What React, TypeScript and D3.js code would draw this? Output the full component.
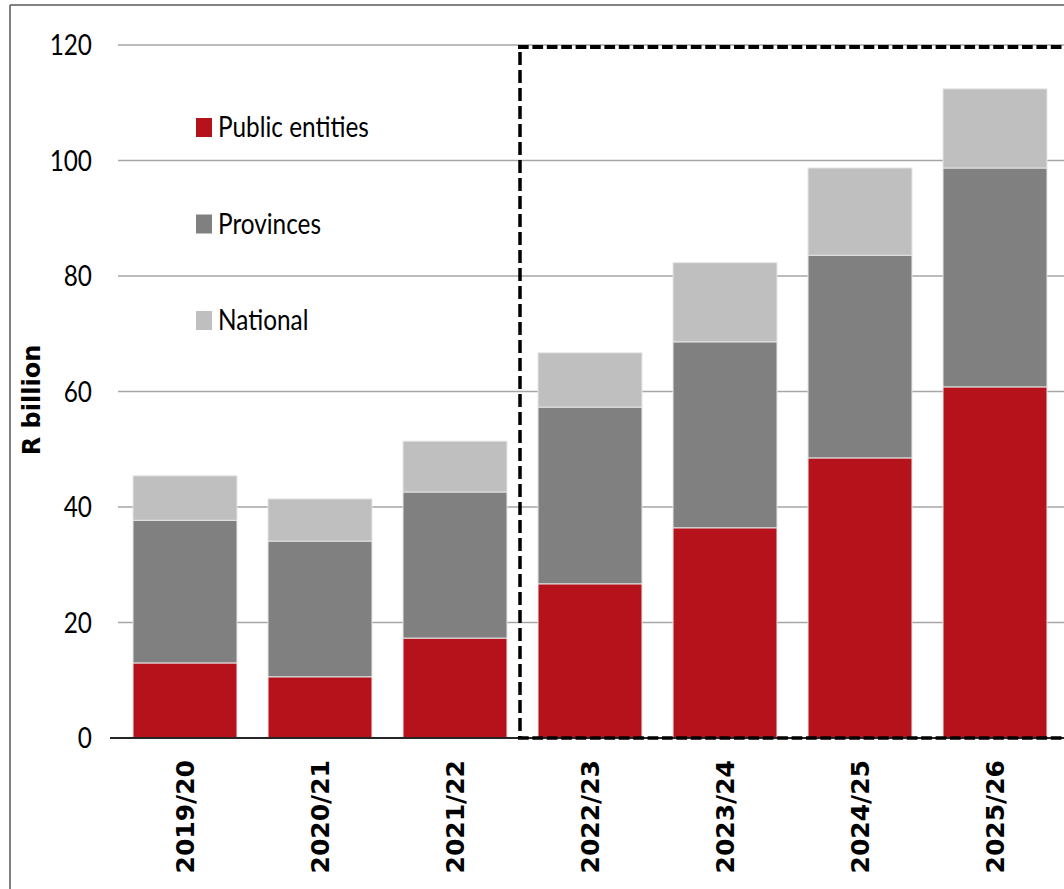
import React from 'react';
import * as d3 from 'd3';

const YEARS = ['2019/20', '2020/21', '2021/22', '2022/23', '2023/24', '2024/25', '2025/26'];
const PUBLIC_ENTITIES = [13.0, 10.6, 17.3, 26.7, 36.4, 48.5, 60.8];
const PROVINCES = [24.7, 23.5, 25.3, 30.6, 32.2, 35.1, 37.9];
const NATIONAL = [7.7, 7.3, 8.8, 9.4, 13.7, 15.1, 13.7];
const SERIES_NAMES = ['Public entities', 'Provinces', 'National'];
const SERIES_COLORS = ['#B5121B', '#808080', '#BFBFBF'];
const Y_TICKS = [0, 20, 40, 60, 80, 100, 120];

const W = 1064;
const H = 889;

// narrow sans look (Calibri-like) made from Lato squeezed horizontally
const NARROW = 'Lato, "Open Sans", sans-serif';
const SQUEEZE = 0.84;

export default function App() {
  const x = d3.scaleBand<string>().domain(YEARS).range([117.5, 1062.5]).paddingInner(0.23).paddingOuter(0.115);
  const y = d3.scaleLinear().domain([0, 120]).range([738, 45]);

  const rows = YEARS.map((yr, i) => ({
    year: yr,
    'Public entities': PUBLIC_ENTITIES[i],
    Provinces: PROVINCES[i],
    National: NATIONAL[i],
  }));
  const stacked = d3.stack<any>().keys(SERIES_NAMES)(rows);

  const boxL = 520;
  const boxT = 47;

  return (
    <div style={{ position: 'absolute', left: 0, top: 0 }}>
      <svg width={W} height={H} style={{ display: 'block', background: '#fff' }}>
        {/* outer frame */}
        <line x1={10} y1={5} x2={W} y2={5} stroke="#595959" strokeWidth={1.5} />
        <line x1={10} y1={5} x2={10} y2={H} stroke="#595959" strokeWidth={1.5} />

        {/* gridlines */}
        {Y_TICKS.filter(t => t > 0).map(t => (
          <line key={t} x1={118} x2={W} y1={y(t)} y2={y(t)} stroke="#A6A6A6" strokeWidth={1.5} />
        ))}

        {/* bars */}
        {stacked.map((s, si) => (
          <g key={s.key} fill={SERIES_COLORS[si]}>
            {s.map((d, i) => (
              <rect
                key={i}
                x={x(YEARS[i])}
                width={x.bandwidth()}
                y={y(d[1])}
                height={y(d[0]) - y(d[1])}
                stroke="#E4E4E4"
                strokeWidth={1}
              />
            ))}
          </g>
        ))}

        {/* zero axis */}
        <line x1={110} x2={W} y1={y(0)} y2={y(0)} stroke="#262626" strokeWidth={2} />

        {/* y tick labels */}
        {Y_TICKS.map(t => (
          <text
            key={t}
            transform={`translate(92, ${y(t)}) scale(${SQUEEZE}, 1)`}
            dy="0.36em"
            textAnchor="end"
            fontFamily={NARROW}
            fontSize={29}
            fill="#000"
          >
            {t}
          </text>
        ))}

        {/* y axis title */}
        <text
          transform={`translate(32, 400) rotate(-90)`}
          textAnchor="middle"
          dy="0.35em"
          fontFamily='"DejaVu Sans", sans-serif'
          fontWeight="bold"
          fontSize={24}
        >
          R billion
        </text>

        {/* category labels */}
        {YEARS.map(yr => (
          <text
            key={yr}
            transform={`translate(${(x(yr) as number) + x.bandwidth() / 2}, 760) rotate(-90)`}
            textAnchor="end"
            dy="0.36em"
            fontFamily='"DejaVu Sans", sans-serif'
            fontWeight="bold"
            fontSize={25}
          >
            {yr}
          </text>
        ))}

        {/* forecast box */}
        <line x1={boxL - 2} x2={W} y1={boxT} y2={boxT} stroke="#000" strokeWidth={4} strokeDasharray="10.7,3.7" />
        <line x1={boxL - 2} x2={W} y1={y(0)} y2={y(0)} stroke="#000" strokeWidth={3.5} strokeDasharray="10.7,3.7" />
        <line x1={boxL} x2={boxL} y1={boxT + 5} y2={y(0)} stroke="#000" strokeWidth={3.5} strokeDasharray="13,5" />

        {/* legend */}
        {SERIES_NAMES.map((n, i) => (
          <g key={n} transform={`translate(196, ${127 + i * 96.5})`}>
            <rect x={0} y={-9} width={16} height={19} fill={SERIES_COLORS[i]} />
            <text
              transform={`translate(22, 0) scale(${SQUEEZE}, 1)`}
              dy="0.36em"
              fontFamily={NARROW}
              fontSize={29}
            >
              {n}
            </text>
          </g>
        ))}
      </svg>
    </div>
  );
}
